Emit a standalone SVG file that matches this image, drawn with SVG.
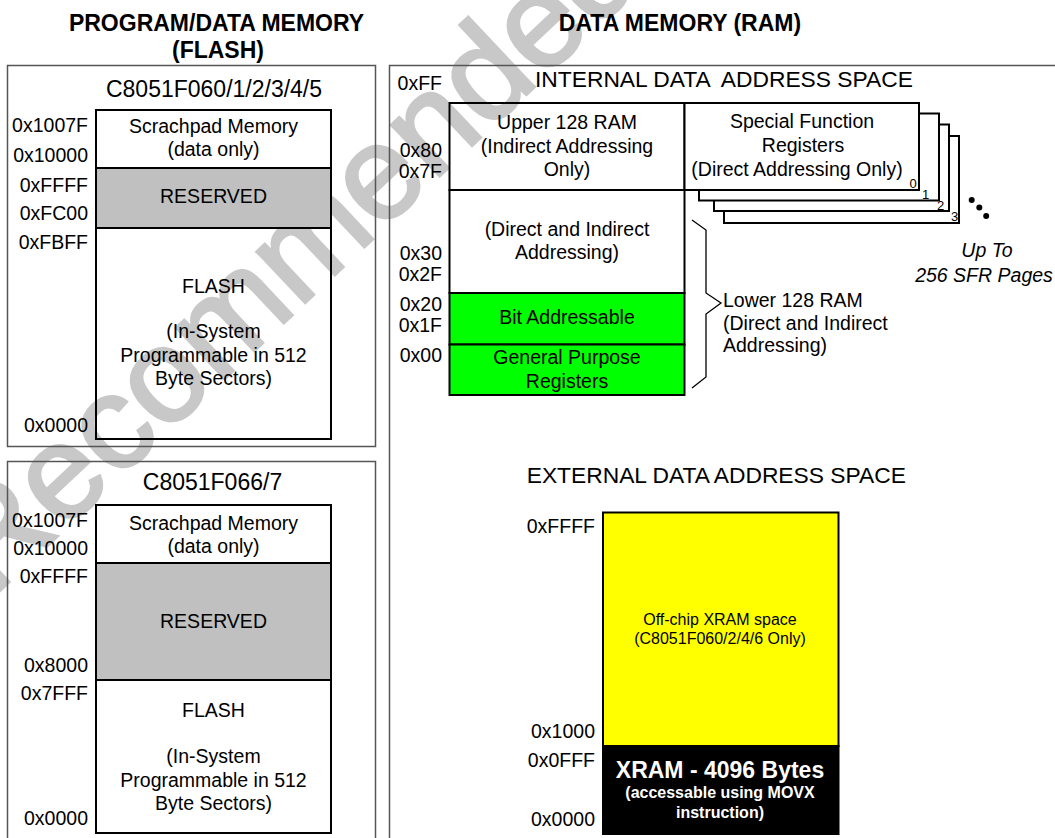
<svg xmlns="http://www.w3.org/2000/svg" width="1055" height="838" viewBox="0 0 1055 838">
<style>
text{font-family:"Liberation Sans",Arial,sans-serif;fill:#000}
.t{font-size:19.5px}
.c{text-anchor:middle}
.e{text-anchor:end}
.h{font-size:23px;font-weight:bold;text-anchor:middle}
.chip{font-size:23px;text-anchor:middle}
.sp{font-size:22.8px}
.outer{fill:none;stroke:#555;stroke-width:1.5}
.blk{stroke:#000;stroke-width:2}
.wm{font-size:133px;fill:#c8c8c8;stroke:#c8c8c8;stroke-width:3}
.sm{font-size:13px}
</style>
<rect width="1055" height="838" fill="#fff"/>
<text class="wm" transform="translate(-8,598) rotate(-43.3)">Recommended</text>

<g id="titles">
<text class="h" x="216.5" y="30.7">PROGRAM/DATA MEMORY</text>
<text class="h" x="218" y="58">(FLASH)</text>
<text class="h" x="680" y="30.7">DATA MEMORY (RAM)</text>
</g>

<g id="flash1">
<rect class="outer" x="7.5" y="65.5" width="368" height="381"/>
<text class="chip" x="214" y="97">C8051F060/1/2/3/4/5</text>
<rect class="blk" x="96" y="110" width="235" height="58" fill="none"/>
<rect class="blk" x="96" y="168" width="235" height="60" fill="#c0c0c0"/>
<rect class="blk" x="96" y="228" width="235" height="211" fill="none"/>
<text class="t c" x="213.5" y="133">Scrachpad Memory</text>
<text class="t c" x="213.5" y="156">(data only)</text>
<text class="t c" x="213.5" y="203">RESERVED</text>
<text class="t c" x="213.5" y="293">FLASH</text>
<text class="t c" x="213.5" y="338">(In-System</text>
<text class="t c" x="213.5" y="361.5">Programmable in 512</text>
<text class="t c" x="213.5" y="385">Byte Sectors)</text>
<text class="t e" x="88" y="132">0x1007F</text>
<text class="t e" x="88" y="161.7">0x10000</text>
<text class="t e" x="88" y="191.5">0xFFFF</text>
<text class="t e" x="88" y="220">0xFC00</text>
<text class="t e" x="88" y="248.5">0xFBFF</text>
<text class="t e" x="88" y="431.7">0x0000</text>
</g>

<g id="flash2">
<rect class="outer" x="7.5" y="461.5" width="368" height="400"/>
<text class="chip" x="212.5" y="490">C8051F066/7</text>
<rect class="blk" x="96" y="505" width="235" height="58" fill="none"/>
<rect class="blk" x="96" y="563" width="235" height="117" fill="#c0c0c0"/>
<rect class="blk" x="96" y="680" width="235" height="153" fill="none"/>
<text class="t c" x="213.5" y="529.5">Scrachpad Memory</text>
<text class="t c" x="213.5" y="552.5">(data only)</text>
<text class="t c" x="213.5" y="628">RESERVED</text>
<text class="t c" x="213.5" y="717">FLASH</text>
<text class="t c" x="213.5" y="763">(In-System</text>
<text class="t c" x="213.5" y="787">Programmable in 512</text>
<text class="t c" x="213.5" y="810">Byte Sectors)</text>
<text class="t e" x="88" y="526.7">0x1007F</text>
<text class="t e" x="88" y="555">0x10000</text>
<text class="t e" x="88" y="583.3">0xFFFF</text>
<text class="t e" x="88" y="671.7">0x8000</text>
<text class="t e" x="88" y="700">0x7FFF</text>
<text class="t e" x="88" y="825">0x0000</text>
</g>

<g id="ram">
<rect class="outer" x="389.5" y="65.5" width="700" height="800"/>
<text class="sp" x="535" y="87.3" xml:space="preserve">INTERNAL DATA  ADDRESS SPACE</text>
<text class="t e" x="442" y="90">0xFF</text>
<text class="t e" x="442" y="156.7">0x80</text>
<text class="t e" x="442" y="178.3">0x7F</text>
<text class="t e" x="442" y="260">0x30</text>
<text class="t e" x="442" y="281">0x2F</text>
<text class="t e" x="442" y="311">0x20</text>
<text class="t e" x="442" y="332">0x1F</text>
<text class="t e" x="442" y="361.7">0x00</text>
</g>

<g id="upper128">
<rect class="blk" x="449.5" y="103" width="235" height="87" fill="none"/>
<text class="t c" x="567" y="129">Upper 128 RAM</text>
<text class="t c" x="567" y="152.5">(Indirect Addressing</text>
<text class="t c" x="567" y="175.7">Only)</text>
</g>

<g id="direct">
<rect class="blk" x="449.5" y="190" width="235" height="103" fill="none"/>
<text class="t c" x="567" y="236">(Direct and Indirect</text>
<text class="t c" x="567" y="259">Addressing)</text>
</g>

<g id="bitaddr">
<rect class="blk" x="449.5" y="293" width="235" height="51.5" fill="#00ff00"/>
<text class="t c" x="567" y="324">Bit Addressable</text>
</g>

<g id="gpr">
<rect class="blk" x="449.5" y="344.5" width="235" height="50.5" fill="#00ff00"/>
<text class="t c" x="567" y="364">General Purpose</text>
<text class="t c" x="567" y="387.5">Registers</text>
</g>

<g id="sfr">
<rect class="blk" x="724" y="136" width="235" height="87" fill="#fff"/>
<rect class="blk" x="714" y="124.5" width="235" height="86.5" fill="#fff"/>
<rect class="blk" x="699" y="113.5" width="240" height="87" fill="#fff"/>
<rect class="blk" x="684.5" y="103" width="234.5" height="87" fill="#fff"/>
<text class="t c" x="802" y="127.5">Special Function</text>
<text class="t c" x="803" y="152">Registers</text>
<text class="t c" x="797" y="176">(Direct Addressing Only)</text>
<text class="sm" x="909.5" y="188">0</text>
<text class="sm" x="922" y="198.5">1</text>
<text class="sm" x="937" y="209.5">2</text>
<text class="sm" x="951" y="221">3</text>
<circle cx="971.7" cy="200" r="3"/>
<circle cx="979.3" cy="207.5" r="3"/>
<circle cx="986.2" cy="216" r="3"/>
<text class="t c" x="987" y="256.7" font-style="italic">Up To</text>
<text class="t c" x="984" y="281.7" font-style="italic">256 SFR Pages</text>
</g>

<g id="connectors">
<polyline points="692,220 706,230 706,293 721,303 706,314 706,377 692,388" fill="none" stroke="#000" stroke-width="1.3"/>
</g>

<g id="lower128label">
<text class="t" x="723" y="307">Lower 128 RAM</text>
<text class="t" x="723" y="329.5">(Direct and Indirect</text>
<text class="t" x="723" y="351.5">Addressing)</text>
</g>

<g id="external">
<text class="sp" x="526.7" y="482.7">EXTERNAL DATA ADDRESS SPACE</text>
<rect x="603" y="512.5" width="235.5" height="233.5" fill="#ffff00" stroke="#000" stroke-width="2"/>
<rect x="603" y="746" width="235.5" height="88" fill="#000" stroke="#000" stroke-width="2"/>
<text class="c" x="720" y="625" font-size="16">Off-chip XRAM space</text>
<text class="c" x="720" y="644.3" font-size="16">(C8051F060/2/4/6 Only)</text>
<text class="c" x="720" y="778.3" font-size="23" font-weight="bold" style="fill:#fff">XRAM - 4096 Bytes</text>
<text class="c" x="720" y="798.3" font-size="16" font-weight="bold" style="fill:#fff">(accessable using MOVX</text>
<text class="c" x="720" y="818.3" font-size="16" font-weight="bold" style="fill:#fff">instruction)</text>
<text class="t e" x="595" y="532.7">0xFFFF</text>
<text class="t e" x="595" y="738.3">0x1000</text>
<text class="t e" x="595" y="766.7">0x0FFF</text>
<text class="t e" x="595" y="826">0x0000</text>
</g>
</svg>
